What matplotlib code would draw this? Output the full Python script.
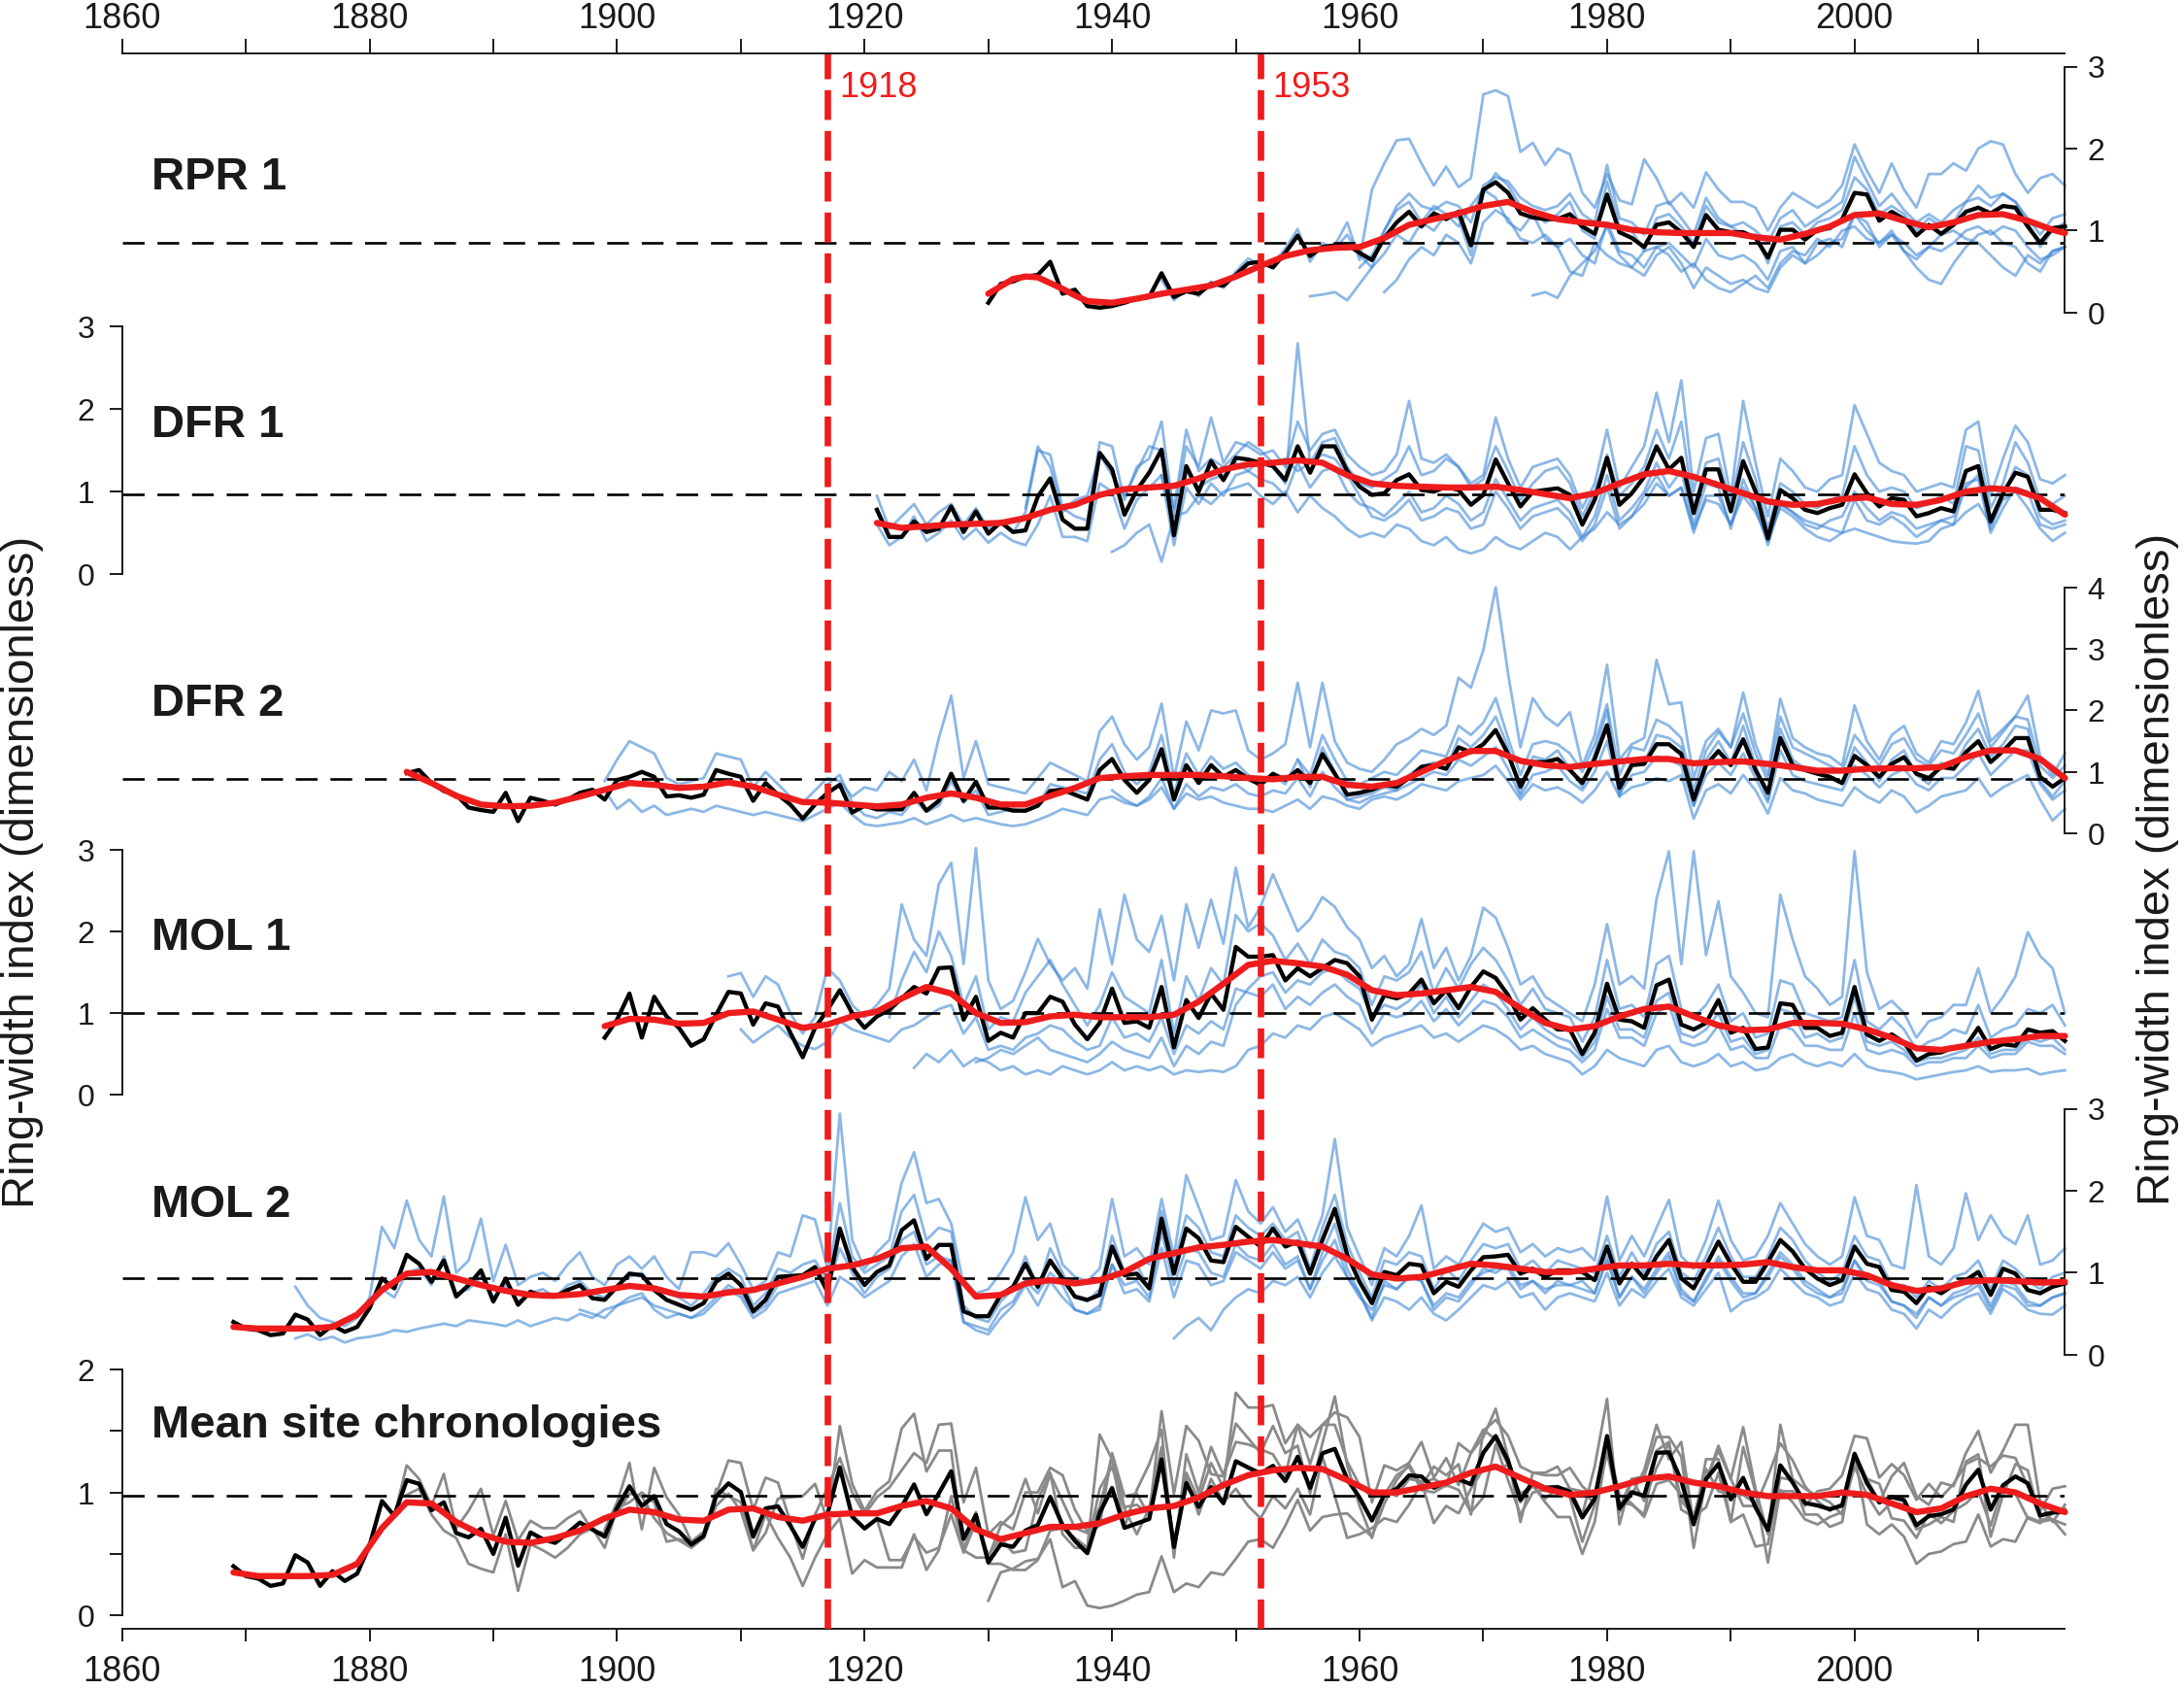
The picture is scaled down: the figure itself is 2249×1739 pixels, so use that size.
import numpy as np
import matplotlib
matplotlib.use("Agg")
import matplotlib.pyplot as plt

plt.rcParams['font.family'] = ['Liberation Sans', 'DejaVu Sans']

# ======================= DATA =======================
x_ticks = [1860, 1870, 1880, 1890, 1900, 1910, 1920, 1930, 1940, 1950,
           1960, 1970, 1980, 1990, 2000, 2010]
x_tick_labels = ['1860', '', '1880', '', '1900', '', '1920', '', '1940', '',
                 '1960', '', '1980', '', '2000', '']
event_years = [1917, 1952]
event_labels = ['1918', '1953']

panel_names = ['RPR 1', 'DFR 1', 'DFR 2', 'MOL 1', 'MOL 2', 'Mean site chronologies']
panel_ymax = [3, 3, 4, 3, 3, 2]
reference_level = [0.85, 0.97, 0.88, 1.0, 0.94, 0.97]
y_label = 'Ring-width index (dimensionless)'

# ---- RPR 1 ----
rpr1_start = 1930
rpr1_black = [0.12, 0.35, 0.38, 0.44, 0.46, 0.62, 0.23, 0.28, 0.08,
              0.06, 0.08, 0.12, 0.17, 0.19, 0.48, 0.19, 0.26, 0.23, 0.35,
              0.33, 0.46, 0.60, 0.62, 0.55, 0.73, 0.94, 0.69, 0.80, 0.82,
              0.83, 0.73, 0.64, 0.91, 1.10, 1.23, 1.05, 1.21, 1.14, 1.23,
              0.82, 1.50, 1.59, 1.46, 1.21, 1.16, 1.14, 1.14, 1.20, 1.05,
              0.96, 1.44, 0.98, 0.91, 0.80, 1.07, 1.10, 0.98, 0.80, 1.19,
              1.01, 0.98, 0.98, 0.91, 0.67, 1.01, 1.01, 0.89, 1.01, 1.03,
              1.14, 1.46, 1.44, 1.12, 1.23, 1.14, 0.94, 1.07, 0.96, 1.07,
              1.23, 1.28, 1.21, 1.30, 1.28, 1.05, 0.85, 1.03, 1.05]
rpr1_red_years = [1930, 1931, 1932, 1933, 1934, 1935, 1936, 1937, 1938, 1940,
                  1942, 1944, 1946, 1948, 1950, 1952, 1954, 1956, 1958, 1960,
                  1962, 1964, 1966, 1968, 1970, 1972, 1974, 1976, 1978, 1980,
                  1982, 1984, 1986, 1988, 1990, 1992, 1994, 1996, 1998, 2000,
                  2002, 2004, 2006, 2008, 2010, 2012, 2014, 2016, 2017]
rpr1_red = [0.23, 0.32, 0.41, 0.44, 0.43, 0.36, 0.29, 0.21, 0.14, 0.12,
            0.17, 0.23, 0.28, 0.33, 0.44, 0.57, 0.69, 0.76, 0.79, 0.80,
            0.91, 1.07, 1.14, 1.21, 1.30, 1.35, 1.23, 1.14, 1.10, 1.07,
            1.01, 0.98, 0.97, 0.97, 0.97, 0.92, 0.89, 0.96, 1.05, 1.19,
            1.21, 1.12, 1.04, 1.10, 1.19, 1.20, 1.12, 1.01, 0.97]
rpr1_tree_starts = [1944, 1956, 1958, 1974, 1960, 1962]
rpr1_tree_a = [0.40, 0.15, 0.30, 0.20, 0.38, 0.30, 0.50, 0.66, 0.58, 0.60,
               0.78, 1.02, 0.62, 0.85, 0.78, 0.95, 0.70, 0.55, 1.00, 1.25,
               1.35, 1.10, 1.30, 1.20, 1.15, 0.70, 1.45, 1.70, 1.55, 1.30,
               1.25, 1.10, 1.20, 1.35, 1.00, 0.90, 1.60, 1.05, 1.00, 0.75,
               1.15, 1.20, 1.05, 0.85, 1.30, 1.10, 1.05, 0.95, 0.95, 0.60,
               1.05, 1.10, 0.95, 1.10, 1.15, 1.25, 1.65, 1.50, 1.20, 1.30,
               1.20, 1.00, 1.15, 1.05, 1.10, 1.35, 1.40, 1.30, 1.45, 1.35,
               1.10, 0.80, 1.00, 1.10]
rpr1_tree_b = [0.20, 0.22, 0.25, 0.15, 0.35, 0.55, 0.72, 0.95, 0.85, 1.10,
               1.00, 1.20, 1.05, 1.30, 1.50, 1.40, 1.10, 1.00, 1.20, 0.90,
               0.80, 0.50, 0.45, 0.85, 0.70, 0.60, 0.55, 0.75, 0.80, 0.70,
               0.50, 0.60, 0.40, 0.30, 0.25, 0.35, 0.45, 0.30, 0.60, 0.75,
               0.70, 0.90, 0.80, 1.00, 1.05, 0.90, 0.85, 1.00, 0.75, 0.65,
               0.80, 0.95, 1.00, 0.90, 0.85, 0.70, 0.55, 0.45, 0.70, 0.60,
               0.75, 0.80]
rpr1_tree_c = [0.82, 1.10, 0.64, 1.50, 1.82, 2.10, 2.12, 1.82, 1.55, 1.78,
               1.53, 1.64, 2.66, 2.71, 2.64, 1.96, 2.07, 1.80, 2.00, 1.93,
               1.46, 1.28, 1.69, 1.37, 1.32, 1.87, 1.64, 1.32, 1.46, 1.28,
               1.71, 1.50, 1.35, 1.35, 1.28, 1.00, 1.28, 1.46, 1.37, 1.28,
               1.37, 1.55, 2.05, 1.73, 1.46, 1.82, 1.50, 1.28, 1.69, 1.69,
               1.82, 1.73, 2.00, 2.09, 2.05, 1.69, 1.46, 1.64, 1.69, 1.55]
rpr1_tree_d = [0.21, 0.25, 0.18, 0.45, 0.60, 0.75, 1.05, 0.70, 0.55, 0.45,
               0.70, 0.80, 0.60, 0.30, 0.55, 0.45, 0.35, 0.40, 0.30, 0.25,
               0.55, 0.70, 0.60, 0.85, 0.90, 0.80, 1.20, 1.00, 0.85, 0.95,
               0.75, 0.55, 0.40, 0.35, 0.60, 0.80, 0.95, 1.00, 0.85, 0.80,
               0.60, 0.50, 0.75, 0.80]
rpr1_tree_e = [0.55, 0.70, 1.00, 1.30, 1.45, 1.30, 1.25, 1.35, 1.30, 1.10,
               1.55, 1.65, 1.60, 1.40, 1.30, 1.25, 1.30, 1.45, 1.20, 1.10,
               1.80, 1.15, 1.10, 0.95, 1.30, 1.35, 1.15, 0.95, 1.40, 1.15,
               1.05, 1.10, 1.00, 0.85, 1.15, 1.25, 1.05, 1.15, 1.25, 1.35,
               1.90, 1.60, 1.30, 1.45, 1.25, 1.10, 1.20, 1.10, 1.25, 1.35,
               1.55, 1.40, 1.45, 1.35, 1.15, 0.95, 1.15, 1.20]
rpr1_tree_f = [0.25, 0.40, 0.65, 0.80, 0.70, 0.95, 0.85, 0.60, 1.10, 1.25,
               1.15, 0.90, 0.85, 0.95, 0.80, 0.90, 0.70, 0.60, 1.10, 0.75,
               0.70, 0.55, 0.80, 0.85, 0.70, 0.55, 0.90, 0.70, 0.65, 0.70,
               0.60, 0.40, 0.75, 0.80, 0.60, 0.70, 0.85, 0.90, 1.20, 1.10,
               0.80, 0.95, 0.85, 0.70, 0.80, 0.75, 0.85, 1.00, 1.05, 0.95,
               1.05, 1.00, 0.80, 0.65, 0.70, 0.80]

# ---- DFR 1 ----
dfr1_start = 1921
dfr1_black = [0.78, 0.45, 0.45, 0.64, 0.51, 0.55, 0.82, 0.51, 0.76, 0.49,
              0.63, 0.51, 0.53, 0.94, 1.16, 0.66, 0.55, 0.55, 1.47, 1.27,
              0.72, 1.02, 1.23, 1.51, 0.47, 1.31, 1.00, 1.37, 1.14, 1.41,
              1.39, 1.35, 1.31, 1.14, 1.55, 1.23, 1.55, 1.55, 1.25, 1.06,
              0.96, 0.98, 1.14, 1.21, 1.02, 1.00, 1.06, 1.02, 0.84, 0.96,
              1.39, 1.10, 0.82, 1.00, 1.02, 1.04, 0.96, 0.60, 0.90, 1.41,
              0.84, 0.98, 1.18, 1.55, 1.27, 1.41, 0.74, 1.27, 1.27, 0.76,
              1.37, 1.00, 0.43, 1.02, 0.92, 0.78, 0.74, 0.80, 0.84, 1.21,
              0.98, 0.82, 0.92, 0.90, 0.70, 0.74, 0.80, 0.76, 1.25, 1.31,
              0.64, 0.98, 1.23, 1.18, 0.78, 0.78, 0.74]
dfr1_red_years = list(range(1921, 2018, 2))
dfr1_red = [0.62, 0.56, 0.58, 0.60, 0.61, 0.62, 0.68, 0.78, 0.84, 0.96,
            1.03, 1.05, 1.07, 1.16, 1.27, 1.33, 1.35, 1.38, 1.35, 1.20,
            1.10, 1.07, 1.06, 1.05, 1.05, 1.06, 1.02, 0.97, 0.92, 0.98,
            1.10, 1.21, 1.25, 1.18, 1.08, 0.98, 0.88, 0.84, 0.85, 0.91,
            0.93, 0.85, 0.84, 0.90, 1.00, 1.04, 1.02, 0.92, 0.72]
dfr1_tree_starts = [1921, 1921, 1940, 1933, 1944]
dfr1_tree_a = [0.60, 0.35, 0.45, 0.70, 0.40, 0.50, 0.65, 0.42, 0.55, 0.38,
               0.50, 0.40, 0.35, 0.60, 0.95, 0.45, 0.45, 0.40, 1.10, 1.00,
               0.55, 0.90, 1.05, 1.20, 0.35, 1.05, 0.85, 1.10, 0.95, 1.20,
               1.25, 1.15, 1.10, 0.95, 1.35, 1.05, 1.25, 1.30, 1.00, 0.85,
               0.80, 0.70, 0.85, 1.00, 0.75, 0.80, 0.95, 0.85, 0.65, 0.75,
               1.15, 0.90, 0.65, 0.80, 0.85, 0.90, 0.75, 0.45, 0.70, 1.20,
               0.65, 0.80, 1.00, 1.35, 1.05, 1.25, 0.60, 1.10, 1.05, 0.55,
               1.15, 0.80, 0.35, 0.85, 0.75, 0.60, 0.55, 0.65, 0.70, 1.00,
               0.80, 0.65, 0.75, 0.70, 0.55, 0.60, 0.65, 0.60, 1.10, 1.15,
               0.50, 0.80, 1.05, 1.00, 0.60, 0.55, 0.60]
dfr1_tree_b = [0.95, 0.55, 0.70, 0.85, 0.60, 0.75, 0.85, 0.60, 0.80, 0.55,
               0.65, 0.50, 0.75, 1.50, 1.45, 0.80, 0.70, 0.65, 1.60, 1.55,
               0.90, 1.30, 1.40, 1.85, 0.70, 1.55, 1.30, 1.90, 1.35, 1.60,
               1.55, 1.45, 1.50, 1.30, 1.85, 1.50, 1.70, 1.75, 1.45, 1.30,
               1.20, 1.25, 1.45, 2.10, 1.40, 1.35, 1.45, 1.30, 1.10, 1.20,
               1.90, 1.40, 1.05, 1.30, 1.35, 1.40, 1.20, 0.80, 1.10, 1.75,
               1.05, 1.30, 1.55, 2.20, 1.60, 2.35, 1.00, 1.65, 1.70, 0.95,
               2.10, 1.35, 0.70, 1.40, 1.25, 1.05, 1.00, 1.15, 1.20, 2.05,
               1.70, 1.35, 1.25, 1.20, 1.00, 1.05, 1.10, 1.05, 1.75, 1.85,
               0.95, 1.40, 1.80, 1.60, 1.15, 1.10, 1.20]
dfr1_tree_c = [0.27, 0.35, 0.50, 0.60, 0.15, 0.70, 0.75, 0.95, 0.85, 1.00,
               1.05, 1.10, 0.95, 0.85, 1.00, 0.75, 0.95, 0.80, 0.70, 0.55,
               0.45, 0.50, 0.45, 0.60, 0.55, 0.40, 0.35, 0.45, 0.30, 0.25,
               0.30, 0.45, 0.35, 0.30, 0.40, 0.50, 0.45, 0.30, 0.45, 0.55,
               0.75, 0.60, 0.70, 0.85, 1.10, 0.95, 1.05, 0.55, 0.90, 0.85,
               0.60, 0.95, 0.75, 0.45, 0.80, 0.70, 0.55, 0.45, 0.40, 0.50,
               0.55, 0.50, 0.45, 0.40, 0.38, 0.37, 0.40, 0.55, 0.60, 0.75,
               0.85, 0.60, 0.90, 1.00, 0.80, 0.55, 0.40, 0.50]
dfr1_tree_d = [0.80, 1.55, 1.30, 0.75, 0.90, 0.95, 1.45, 1.20, 0.95, 1.25,
               1.55, 1.50, 0.80, 1.75, 1.25, 1.40, 1.30, 1.45, 1.60, 1.50,
               1.35, 1.40, 1.25, 1.35, 1.60, 1.65, 1.30, 1.10, 1.05, 1.15,
               1.25, 1.55, 1.20, 1.25, 1.40, 1.30, 1.05, 1.15, 1.55, 1.25,
               0.90, 1.10, 1.25, 1.30, 1.10, 0.70, 1.00, 1.45, 0.95, 1.10,
               1.30, 1.75, 1.40, 1.85, 0.80, 1.35, 1.40, 0.85, 1.60, 1.15,
               0.55, 1.10, 1.00, 0.85, 0.80, 0.90, 0.95, 1.55, 1.20, 1.00,
               1.05, 1.00, 0.80, 0.85, 0.95, 0.85, 1.55, 1.50, 0.80, 1.10,
               1.60, 1.35, 0.90, 0.85, 0.95]
dfr1_tree_e = [1.20, 0.55, 1.25, 1.05, 1.15, 1.20, 1.35, 1.25, 1.40, 1.30,
               1.10, 2.80, 1.35, 1.45, 1.40, 1.20, 0.95, 0.70, 0.65, 0.75,
               0.90, 0.65, 0.70, 0.80, 0.75, 0.55, 0.60, 1.00, 0.80, 0.55,
               0.70, 0.75, 0.80, 0.65, 0.40, 0.60, 1.05, 0.55, 0.70, 0.95,
               1.20, 0.95, 1.05, 0.50, 0.95, 0.95, 0.60, 1.05, 0.80, 0.40,
               0.85, 0.75, 0.65, 0.60, 0.55, 0.50, 0.90, 0.65, 0.60, 0.70,
               0.60, 0.45, 0.55, 0.65, 0.70, 1.05, 1.20, 0.55, 0.95, 1.30,
               1.20, 0.70, 0.60, 0.65]

# ---- DFR 2 ----
dfr2_start = 1883
dfr2_black = [0.98, 1.03, 0.82, 0.69, 0.63, 0.42, 0.38, 0.35, 0.66, 0.20,
              0.58, 0.53, 0.47, 0.55, 0.66, 0.71, 0.55, 0.87, 0.92, 1.00,
              0.92, 0.60, 0.62, 0.58, 0.63, 1.03, 0.97, 0.92, 0.53, 0.82,
              0.63, 0.47, 0.24, 0.47, 0.66, 0.79, 0.34, 0.45, 0.39, 0.39,
              0.39, 0.66, 0.37, 0.53, 0.97, 0.53, 0.84, 0.42, 0.42, 0.37,
              0.37, 0.45, 0.69, 0.71, 0.63, 0.55, 1.03, 1.21, 0.87, 0.66,
              0.87, 1.37, 0.55, 1.11, 0.82, 1.11, 0.92, 1.03, 0.89, 0.79,
              0.97, 0.87, 1.03, 0.82, 1.29, 0.97, 0.63, 0.66, 0.71, 0.79,
              0.76, 0.90, 1.08, 1.11, 1.05, 1.40, 1.32, 1.45, 1.68, 1.29,
              0.76, 1.16, 1.16, 1.21, 1.03, 0.82, 1.21, 1.76, 0.74, 1.11,
              1.13, 1.45, 1.45, 1.29, 0.55, 1.11, 1.34, 1.11, 1.53, 1.03,
              0.66, 1.55, 1.11, 1.03, 0.97, 0.92, 0.82, 1.26, 1.11, 0.92,
              1.13, 1.24, 0.97, 0.90, 1.08, 1.05, 1.32, 1.50, 1.16, 1.34,
              1.55, 1.55, 0.92, 0.76, 0.90]
dfr2_red_years = list(range(1883, 2018, 2))
dfr2_red = [1.00, 0.82, 0.61, 0.47, 0.44, 0.45, 0.50, 0.60, 0.71, 0.82,
            0.79, 0.74, 0.76, 0.83, 0.76, 0.63, 0.51, 0.50, 0.47, 0.44,
            0.47, 0.58, 0.65, 0.58, 0.47, 0.47, 0.61, 0.74, 0.90, 0.93,
            0.95, 0.95, 0.95, 0.93, 0.90, 0.88, 0.92, 0.92, 0.79, 0.76,
            0.82, 1.00, 1.18, 1.34, 1.34, 1.18, 1.11, 1.08, 1.13, 1.17,
            1.21, 1.21, 1.14, 1.16, 1.17, 1.13, 1.08, 1.02, 1.02, 1.05,
            1.06, 1.06, 1.08, 1.24, 1.35, 1.35, 1.21, 0.90]
dfr2_tree_starts = [1899, 1899, 1917, 1940, 1955]
dfr2_tree_a = [0.85, 1.20, 1.50, 1.40, 1.30, 0.90, 0.80, 0.85, 0.90, 1.30,
               1.25, 1.20, 0.75, 1.00, 0.80, 0.60, 0.50, 0.70, 0.90, 0.85,
               0.60, 0.75, 0.70, 1.00, 0.85, 1.20, 0.70, 1.55, 2.24, 0.90,
               1.50, 0.80, 0.75, 0.70, 0.65, 0.90, 1.15, 1.05, 0.95, 0.85,
               1.66, 1.90, 1.45, 1.20, 1.40, 2.11, 0.90, 1.82, 1.35, 2.00,
               1.95, 2.00, 1.35, 1.20, 1.30, 1.45, 2.45, 1.40, 2.45, 1.50,
               1.15, 1.05, 1.00, 1.20, 1.45, 1.55, 1.70, 1.60, 1.75, 2.53,
               2.37, 2.98, 4.00, 2.60, 1.40, 2.20, 1.90, 1.75, 1.97, 1.10,
               1.60, 2.74, 1.20, 1.45, 1.55, 2.82, 2.10, 2.13, 0.90, 1.50,
               1.70, 1.40, 2.29, 1.45, 0.95, 2.19, 1.55, 1.40, 1.30, 1.25,
               1.10, 2.08, 1.50, 1.20, 1.60, 1.75, 1.30, 1.15, 1.50, 1.45,
               1.80, 2.32, 1.50, 1.70, 1.90, 2.24, 1.25, 0.95, 1.30]
dfr2_tree_b = [0.70, 0.40, 0.55, 0.35, 0.45, 0.30, 0.35, 0.40, 0.35, 0.45,
               0.40, 0.35, 0.30, 0.35, 0.30, 0.25, 0.20, 0.30, 0.40, 0.50,
               0.30, 0.15, 0.12, 0.15, 0.18, 0.25, 0.15, 0.22, 0.30, 0.20,
               0.25, 0.20, 0.15, 0.12, 0.15, 0.22, 0.30, 0.40, 0.35, 0.30,
               0.55, 0.60, 0.50, 0.45, 0.55, 0.75, 0.40, 0.65, 0.55, 0.60,
               0.50, 0.45, 0.40, 0.40, 0.35, 0.45, 0.55, 0.40, 0.60, 0.55,
               0.45, 0.40, 0.55, 0.60, 0.55, 0.65, 0.80, 0.75, 0.70, 0.85,
               0.90, 0.95, 1.10, 0.85, 0.55, 0.80, 0.70, 0.75, 0.65, 0.50,
               0.70, 1.00, 0.60, 0.75, 0.80, 0.90, 0.85, 0.95, 0.24, 0.70,
               0.80, 0.65, 0.95, 0.70, 0.32, 0.90, 0.70, 0.65, 0.55, 0.50,
               0.45, 0.75, 0.60, 0.50, 0.70, 0.60, 0.34, 0.45, 0.60, 0.65,
               0.70, 0.90, 0.60, 0.75, 0.85, 0.95, 0.55, 0.21, 0.40]
dfr2_tree_c = [0.80, 0.95, 0.50, 0.30, 0.25, 0.35, 0.30, 0.55, 0.35, 0.45,
               0.85, 0.50, 0.70, 0.30, 0.35, 0.40, 0.35, 0.45, 0.80, 0.75,
               0.70, 0.65, 1.20, 1.45, 1.00, 0.80, 1.00, 1.60, 0.65, 1.30,
               0.95, 1.25, 1.05, 1.15, 0.95, 0.85, 0.95, 0.80, 1.20, 0.75,
               1.40, 1.00, 0.55, 0.60, 0.65, 0.75, 0.70, 0.95, 1.10, 1.15,
               1.05, 1.55, 1.40, 1.60, 1.90, 1.40, 0.65, 1.25, 1.20, 1.35,
               1.05, 0.75, 1.30, 2.00, 0.60, 1.20, 1.15, 1.60, 1.55, 1.40,
               0.45, 1.20, 1.50, 1.15, 1.75, 1.10, 0.55, 1.70, 1.20, 1.05,
               1.00, 0.90, 0.80, 1.40, 1.15, 0.85, 1.20, 1.35, 0.95, 0.80,
               1.15, 1.05, 1.45, 1.70, 1.25, 1.45, 1.75, 1.70, 0.85, 0.60,
               0.85]
dfr2_tree_d = [0.70, 0.55, 0.45, 0.60, 0.90, 0.40, 0.80, 0.60, 0.75, 0.70,
               0.80, 0.65, 0.60, 0.70, 0.65, 0.90, 0.60, 1.00, 0.75, 0.55,
               0.50, 0.60, 0.65, 0.70, 0.80, 0.90, 1.00, 0.95, 1.20, 1.10,
               1.25, 1.40, 1.05, 0.60, 0.95, 1.00, 1.10, 0.85, 0.70, 1.00,
               1.50, 0.65, 0.95, 1.00, 1.25, 1.20, 1.10, 0.45, 0.95, 1.15,
               0.95, 1.30, 0.90, 0.50, 1.35, 0.95, 0.85, 0.80, 0.75, 0.70,
               1.10, 0.95, 0.75, 0.95, 1.05, 0.80, 0.70, 0.90, 0.90, 1.10,
               1.30, 0.95, 1.15, 1.35, 1.35, 0.80, 0.55, 0.70]
dfr2_tree_e = [1.20, 0.95, 1.60, 1.20, 0.85, 0.80, 0.90, 1.00, 0.95, 1.15,
               1.35, 1.30, 1.25, 1.75, 1.60, 1.80, 2.20, 1.55, 0.95, 1.45,
               1.50, 1.45, 1.30, 1.00, 1.45, 2.10, 0.95, 1.40, 1.35, 1.85,
               1.75, 1.55, 0.70, 1.35, 1.65, 1.40, 1.95, 1.30, 0.85, 1.90,
               1.40, 1.30, 1.20, 1.10, 1.00, 1.60, 1.35, 1.10, 1.45, 1.55,
               1.20, 1.10, 1.35, 1.30, 1.60, 1.95, 1.40, 1.65, 1.90, 1.85,
               1.10, 0.90, 1.10]

# ---- MOL 1 ----
mol1_start = 1899
mol1_black = [0.70, 0.92, 1.24, 0.70, 1.20, 0.96, 0.82, 0.60, 0.68, 0.98,
              1.26, 1.24, 0.86, 1.12, 1.08, 0.76, 0.46, 0.82, 1.04, 1.28,
              1.00, 0.82, 0.96, 1.04, 1.18, 1.32, 1.24, 1.55, 1.56, 0.92,
              1.20, 0.66, 0.76, 0.70, 1.00, 1.00, 1.20, 1.14, 0.86, 0.68,
              0.88, 1.30, 0.88, 0.90, 0.82, 1.32, 0.58, 1.16, 0.94, 1.24,
              1.04, 1.81, 1.69, 1.69, 1.71, 1.40, 1.55, 1.45, 1.55, 1.65,
              1.61, 1.45, 0.92, 1.22, 1.18, 1.24, 1.41, 1.12, 1.28, 1.06,
              1.32, 1.51, 1.43, 1.22, 0.92, 1.06, 0.92, 0.80, 0.80, 0.50,
              0.76, 1.36, 0.92, 0.90, 0.82, 1.34, 1.41, 0.86, 0.80, 0.88,
              1.16, 0.76, 0.82, 0.56, 0.58, 1.12, 1.10, 0.82, 0.82, 0.72,
              0.76, 1.32, 0.74, 0.66, 0.74, 0.64, 0.42, 0.50, 0.52, 0.58,
              0.60, 0.82, 0.56, 0.62, 0.60, 0.80, 0.76, 0.78, 0.66]
mol1_red_years = list(range(1899, 2018, 2))
mol1_red = [0.84, 0.93, 0.92, 0.87, 0.88, 1.00, 1.02, 0.92, 0.82, 0.86,
            0.96, 1.02, 1.18, 1.32, 1.24, 1.00, 0.88, 0.89, 0.96, 0.98,
            0.95, 0.95, 0.95, 0.98, 1.14, 1.36, 1.59, 1.64, 1.61, 1.57,
            1.47, 1.28, 1.22, 1.24, 1.28, 1.32, 1.26, 1.06, 0.88, 0.80,
            0.84, 0.96, 1.05, 1.08, 0.96, 0.85, 0.79, 0.80, 0.88, 0.88,
            0.87, 0.80, 0.70, 0.57, 0.55, 0.60, 0.65, 0.68, 0.72, 0.72]
mol1_tree_starts = [1909, 1910, 1924, 1922, 1929]
mol1_tree_a = [1.45, 1.49, 1.20, 1.45, 1.35, 1.00, 0.75, 0.95, 1.55, 1.40,
               1.10, 0.95, 1.10, 1.30, 2.33, 1.90, 1.70, 2.58, 2.84, 1.60,
               3.02, 1.40, 1.05, 1.15, 1.50, 1.91, 1.60, 1.40, 1.55, 1.30,
               2.27, 1.60, 2.45, 1.90, 1.75, 2.19, 1.40, 2.33, 1.80, 2.39,
               1.85, 2.78, 2.05, 2.30, 2.70, 2.35, 2.00, 2.15, 2.42, 2.30,
               2.05, 1.90, 1.55, 1.70, 1.45, 1.60, 2.15, 1.55, 1.80, 1.40,
               1.70, 2.29, 2.17, 1.80, 1.35, 1.45, 1.20, 1.10, 1.00, 0.90,
               1.35, 2.09, 1.35, 1.45, 1.30, 2.40, 2.98, 1.60, 2.98, 1.71,
               2.37, 1.45, 1.25, 1.00, 0.95, 2.45, 1.90, 1.45, 1.30, 1.10,
               1.20, 2.98, 1.50, 1.05, 1.15, 1.00, 0.70, 0.90, 0.95, 1.10,
               1.10, 1.55, 1.00, 1.20, 1.45, 1.99, 1.70, 1.55, 1.00]
mol1_tree_b = [0.80, 0.64, 0.75, 0.85, 0.70, 0.60, 0.56, 0.65, 0.90, 0.80,
               0.75, 0.70, 0.65, 0.80, 0.85, 0.95, 1.05, 1.10, 0.75, 0.95,
               0.55, 0.60, 0.55, 0.70, 0.75, 0.85, 0.80, 0.65, 0.55, 0.60,
               0.95, 0.70, 0.75, 0.65, 0.95, 0.50, 0.85, 0.75, 0.90, 0.80,
               1.30, 1.25, 1.20, 1.35, 1.05, 1.20, 1.10, 1.25, 1.35, 1.20,
               1.10, 0.75, 1.00, 0.95, 1.00, 1.15, 0.90, 1.05, 0.85, 1.00,
               1.15, 1.10, 0.95, 0.70, 0.80, 0.70, 0.60, 0.55, 0.40, 0.55,
               1.05, 0.70, 0.70, 0.60, 1.00, 1.10, 0.65, 0.60, 0.65, 0.85,
               0.55, 0.60, 0.45, 0.45, 0.85, 0.80, 0.60, 0.60, 0.55, 0.55,
               1.00, 0.55, 0.50, 0.55, 0.50, 0.35, 0.40, 0.40, 0.45, 0.45,
               0.60, 0.45, 0.50, 0.50, 0.65, 0.60, 0.60, 0.50]
mol1_tree_c = [0.33, 0.50, 0.40, 0.55, 0.35, 0.45, 0.40, 0.30, 0.35, 0.25,
               0.30, 0.25, 0.35, 0.30, 0.25, 0.30, 0.40, 0.30, 0.35, 0.30,
               0.35, 0.25, 0.30, 0.28, 0.30, 0.28, 0.35, 0.55, 0.60, 0.75,
               0.70, 0.85, 0.80, 0.95, 1.00, 0.90, 0.80, 0.60, 0.70, 0.75,
               0.80, 0.85, 0.70, 0.75, 0.65, 0.75, 0.85, 0.80, 0.70, 0.55,
               0.60, 0.50, 0.45, 0.40, 0.25, 0.35, 0.55, 0.45, 0.40, 0.35,
               0.55, 0.60, 0.40, 0.35, 0.40, 0.50, 0.35, 0.40, 0.30, 0.33,
               0.45, 0.50, 0.40, 0.35, 0.40, 0.35, 0.50, 0.35, 0.30, 0.28,
               0.25, 0.19, 0.22, 0.25, 0.28, 0.30, 0.35, 0.28, 0.30, 0.30,
               0.32, 0.25, 0.28, 0.30]
mol1_tree_d = [0.95, 1.40, 1.75, 1.50, 2.00, 1.70, 1.10, 1.45, 0.80, 0.95,
               0.90, 1.25, 1.45, 1.65, 1.35, 1.10, 0.85, 1.10, 1.50, 1.20,
               1.10, 1.00, 1.65, 0.75, 1.45, 1.15, 1.55, 1.35, 2.20, 2.00,
               2.10, 1.95, 1.65, 1.85, 1.60, 1.90, 1.75, 1.70, 1.55, 1.10,
               1.45, 1.40, 1.50, 1.75, 1.25, 1.55, 1.30, 1.60, 1.80, 1.65,
               1.40, 1.10, 1.30, 1.05, 1.00, 0.95, 0.65, 0.95, 1.65, 1.05,
               1.10, 0.95, 1.60, 1.70, 1.05, 0.95, 1.10, 1.35, 0.90, 1.00,
               0.70, 0.75, 1.40, 1.35, 1.00, 0.95, 0.90, 0.95, 1.65, 0.90,
               0.80, 0.95, 0.80, 0.55, 0.65, 0.70, 0.80, 0.75, 1.10, 0.70,
               0.80, 0.85, 1.05, 1.00, 1.10, 0.85]
mol1_tree_e = [0.40, 0.45, 0.55, 0.50, 0.60, 0.70, 0.55, 0.50, 0.45, 0.40,
               0.50, 0.65, 0.55, 0.50, 0.45, 0.70, 0.35, 0.60, 0.50, 0.65,
               0.60, 1.10, 1.30, 1.45, 1.50, 1.25, 1.40, 1.35, 1.50, 1.55,
               1.40, 1.30, 0.95, 1.10, 1.05, 1.15, 1.35, 1.00, 1.20, 0.95,
               1.15, 1.35, 1.25, 1.05, 0.80, 0.95, 0.80, 0.70, 0.65, 0.45,
               0.65, 1.20, 0.80, 0.80, 0.70, 1.15, 1.25, 0.75, 0.70, 0.80,
               1.00, 0.65, 0.70, 0.50, 0.55, 1.05, 1.00, 0.70, 0.75, 0.65,
               0.70, 1.20, 0.65, 0.60, 0.65, 0.55, 0.40, 0.45, 0.45, 0.50,
               0.55, 0.70, 0.50, 0.55, 0.55, 0.70, 0.65, 0.70, 0.55]

# ---- MOL 2 ----
mol2_start = 1869
mol2_black = [0.40, 0.32, 0.30, 0.24, 0.26, 0.49, 0.43, 0.24, 0.36, 0.28,
              0.34, 0.57, 0.93, 0.81, 1.22, 1.11, 0.89, 1.15, 0.71, 0.85,
              1.03, 0.65, 0.93, 0.61, 0.77, 0.71, 0.71, 0.79, 0.85, 0.69,
              0.67, 0.83, 0.99, 0.97, 0.79, 0.67, 0.61, 0.55, 0.63, 0.89,
              0.99, 0.85, 0.53, 0.67, 0.95, 0.96, 0.97, 1.07, 0.77, 1.54,
              1.07, 0.85, 1.01, 1.09, 1.52, 1.64, 1.17, 1.34, 1.34, 0.53,
              0.47, 0.47, 0.73, 0.83, 1.11, 0.83, 1.15, 0.93, 0.71, 0.67,
              0.73, 1.32, 0.97, 0.99, 0.81, 1.66, 0.99, 1.54, 1.42, 1.15,
              1.13, 1.56, 1.44, 1.32, 1.54, 1.32, 1.38, 0.99, 1.40, 1.78,
              1.22, 0.89, 0.63, 1.01, 0.97, 1.11, 1.09, 0.75, 0.89, 0.83,
              1.03, 1.19, 1.20, 1.22, 0.99, 1.05, 0.95, 1.03, 1.03, 1.01,
              0.91, 1.32, 0.87, 1.11, 0.93, 1.20, 1.40, 0.93, 0.81, 1.09,
              1.38, 1.11, 0.89, 0.89, 1.13, 1.40, 1.26, 1.05, 0.93, 0.85,
              0.91, 1.32, 1.11, 1.07, 0.79, 0.77, 0.63, 0.83, 0.75, 0.85,
              0.91, 1.01, 0.73, 1.05, 0.99, 0.79, 0.75, 0.83, 0.87]
mol2_red_years = list(range(1869, 2018, 2))
mol2_red = [0.34, 0.32, 0.32, 0.32, 0.34, 0.49, 0.79, 0.99, 1.01, 0.93,
            0.85, 0.78, 0.73, 0.72, 0.74, 0.79, 0.84, 0.81, 0.73, 0.71,
            0.76, 0.79, 0.87, 0.95, 1.05, 1.09, 1.17, 1.30, 1.32, 1.05,
            0.71, 0.73, 0.87, 0.91, 0.87, 0.91, 1.01, 1.17, 1.24, 1.31,
            1.34, 1.38, 1.40, 1.36, 1.32, 1.17, 0.98, 0.93, 0.95, 1.03,
            1.11, 1.09, 1.05, 1.01, 1.01, 1.05, 1.09, 1.09, 1.11, 1.09,
            1.09, 1.10, 1.13, 1.07, 1.03, 1.03, 0.97, 0.85, 0.78, 0.81,
            0.89, 0.91, 0.90, 0.88, 0.89]
mol2_tree_starts = [1874, 1874, 1881, 1945, 1897]
mol2_tree_a = [0.20, 0.25, 0.18, 0.22, 0.15, 0.20, 0.22, 0.25, 0.30, 0.28,
               0.32, 0.35, 0.38, 0.35, 0.42, 0.40, 0.38, 0.35, 0.42, 0.35,
               0.40, 0.45, 0.42, 0.50, 0.45, 0.55, 0.60, 0.65, 0.70, 0.60,
               0.55, 0.50, 0.45, 0.55, 0.70, 0.85, 0.75, 0.50, 0.60, 0.85,
               0.90, 0.95, 1.00, 0.80, 1.30, 1.00, 0.75, 0.95, 1.05, 1.40,
               1.50, 1.10, 1.20, 1.15, 0.40, 0.35, 0.30, 0.55, 0.65, 0.90,
               0.75, 1.00, 0.85, 0.55, 0.50, 0.60, 1.10, 0.85, 0.90, 0.70,
               1.50, 0.85, 1.30, 1.25, 1.00, 0.95, 1.35, 1.20, 1.15, 1.35,
               1.10, 1.20, 0.80, 1.25, 1.60, 1.05, 0.75, 0.45, 0.90, 0.80,
               0.95, 0.90, 0.55, 0.70, 0.65, 0.85, 1.05, 1.00, 1.10, 0.85,
               0.90, 0.80, 0.85, 0.85, 0.90, 0.75, 1.15, 0.70, 0.95, 0.80,
               1.05, 1.25, 0.80, 0.65, 0.90, 1.20, 0.95, 0.75, 0.75, 1.00,
               1.25, 1.10, 0.90, 0.80, 0.70, 0.80, 1.15, 0.95, 0.90, 0.65,
               0.60, 0.50, 0.70, 0.60, 0.75, 0.80, 0.90, 0.60, 0.90, 0.85,
               0.65, 0.60, 0.70, 0.75]
mol2_tree_b = [0.83, 0.60, 0.45, 0.40, 0.35, 0.45, 0.70, 1.56, 1.30, 1.88,
               1.40, 1.20, 1.93, 1.00, 1.15, 1.66, 0.90, 1.34, 0.85, 0.95,
               1.00, 0.90, 1.10, 1.25, 0.95, 0.85, 1.10, 1.20, 1.05, 1.20,
               0.95, 0.80, 1.25, 1.25, 1.20, 1.36, 1.10, 0.80, 0.90, 1.25,
               1.20, 1.70, 1.65, 1.05, 2.94, 1.40, 1.05, 1.25, 1.40, 2.10,
               2.47, 1.85, 1.90, 1.60, 0.85, 0.75, 0.80, 1.00, 1.25, 1.92,
               1.40, 1.60, 1.10, 0.95, 0.90, 1.05, 1.90, 1.20, 1.30, 1.10,
               1.90, 1.20, 2.19, 1.80, 1.40, 1.45, 2.13, 1.75, 1.60, 1.80,
               1.50, 1.65, 1.30, 1.70, 2.63, 1.55, 1.20, 0.85, 1.30, 1.20,
               1.45, 1.82, 1.05, 1.20, 1.10, 1.35, 1.60, 1.50, 1.55, 1.25,
               1.35, 1.20, 1.30, 1.25, 1.30, 1.15, 1.93, 1.15, 1.45, 1.20,
               1.55, 1.89, 1.20, 1.05, 1.40, 1.88, 1.40, 1.15, 1.20, 1.45,
               1.85, 1.60, 1.35, 1.20, 1.10, 1.20, 1.92, 1.45, 1.40, 1.10,
               1.05, 2.07, 1.20, 1.10, 1.30, 1.97, 1.40, 1.70, 1.45, 1.35,
               1.70, 1.10, 1.15, 1.30]
mol2_tree_c = [0.80, 0.70, 1.00, 1.05, 0.85, 1.20, 0.75, 0.80, 0.95, 0.70,
               0.85, 0.65, 0.75, 0.80, 0.70, 0.85, 0.90, 0.75, 0.70, 0.85,
               0.95, 1.00, 0.80, 0.75, 0.70, 0.60, 0.75, 0.95, 1.05, 0.95,
               0.60, 0.75, 1.05, 1.00, 1.10, 1.15, 0.90, 1.85, 1.20, 1.00,
               1.10, 1.20, 1.75, 1.95, 1.40, 1.55, 1.50, 0.60, 0.45, 0.40,
               0.65, 0.80, 1.20, 0.80, 1.30, 1.00, 0.70, 0.65, 0.80, 1.45,
               1.00, 1.10, 0.80, 1.75, 1.10, 1.70, 1.55, 1.25, 1.20, 1.70,
               1.55, 1.45, 1.60, 1.40, 1.50, 1.05, 1.55, 1.95, 1.35, 1.00,
               0.70, 1.15, 1.10, 1.25, 1.20, 0.80, 1.05, 0.90, 1.15, 1.35,
               1.30, 1.35, 1.05, 1.15, 1.00, 1.15, 1.10, 1.05, 1.00, 1.45,
               0.95, 1.25, 1.00, 1.35, 1.50, 1.00, 0.90, 1.20, 1.55, 1.20,
               0.95, 0.95, 1.20, 1.55, 1.40, 1.15, 1.00, 0.90, 1.00, 1.45,
               1.20, 1.15, 0.85, 0.85, 0.70, 0.90, 0.80, 0.95, 1.00, 1.15,
               0.80, 1.15, 1.05, 0.90, 0.80, 0.95, 1.00]
mol2_tree_d = [0.20, 0.35, 0.45, 0.30, 0.55, 0.70, 0.80, 0.75, 0.90, 0.85,
               0.95, 0.70, 1.00, 1.20, 0.95, 0.75, 0.42, 0.70, 0.65, 0.55,
               0.70, 0.50, 0.42, 0.55, 0.70, 0.85, 0.80, 0.90, 0.70, 0.75,
               0.55, 0.70, 0.75, 0.70, 0.65, 1.00, 0.60, 0.80, 0.70, 0.90,
               1.05, 0.70, 0.60, 0.80, 1.00, 0.53, 0.65, 0.70, 0.80, 1.05,
               0.90, 0.75, 0.70, 0.60, 0.65, 1.00, 0.80, 0.75, 0.55, 0.50,
               0.32, 0.55, 0.45, 0.60, 0.70, 0.75, 0.50, 0.80, 0.70, 0.55,
               0.50, 0.49, 0.60]
mol2_tree_e = [0.55, 0.50, 0.45, 0.60, 0.70, 0.75, 0.55, 0.45, 0.50, 0.45,
               0.50, 0.65, 0.80, 0.70, 0.45, 0.55, 0.75, 0.80, 0.85, 0.90,
               0.60, 0.95, 0.85, 0.70, 0.80, 0.90, 1.20, 1.35, 0.95, 1.10,
               1.15, 0.40, 0.30, 0.25, 0.45, 0.60, 0.85, 0.60, 0.90, 0.70,
               0.55, 0.50, 0.55, 1.10, 0.75, 0.80, 0.65, 1.30, 0.70, 1.15,
               1.10, 0.85, 0.90, 1.25, 1.15, 1.05, 1.25, 1.05, 1.15, 0.80,
               1.15, 1.40, 0.95, 0.70, 0.55, 0.85, 0.80, 0.95, 0.90, 0.60,
               0.75, 0.70, 0.90, 1.00, 1.05, 1.05, 0.80, 0.90, 0.75, 0.90,
               0.85, 0.80, 0.75, 1.20, 0.70, 0.95, 0.75, 1.00, 1.20, 0.75,
               0.65, 0.95, 1.15, 0.90, 0.70, 0.75, 0.95, 1.20, 1.05, 0.85,
               0.75, 0.70, 0.75, 1.15, 0.90, 0.85, 0.65, 0.60, 0.45, 0.70,
               0.60, 0.70, 0.75, 0.85, 0.55, 0.85, 0.80, 0.60, 0.60, 0.70,
               0.75]

# ---- Mean site chronologies ----
mean_red_years = list(range(1869, 2018, 2))
mean_red = [0.35, 0.32, 0.32, 0.32, 0.33, 0.42, 0.71, 0.92, 0.91, 0.76,
            0.66, 0.60, 0.59, 0.63, 0.69, 0.79, 0.86, 0.84, 0.78, 0.77,
            0.86, 0.87, 0.80, 0.77, 0.82, 0.83, 0.83, 0.89, 0.93, 0.87,
            0.70, 0.62, 0.67, 0.72, 0.72, 0.75, 0.82, 0.87, 0.89, 0.96,
            1.06, 1.14, 1.18, 1.20, 1.19, 1.10, 1.00, 1.00, 1.04, 1.08,
            1.16, 1.21, 1.12, 1.03, 0.98, 1.00, 1.05, 1.11, 1.13, 1.08,
            1.05, 1.00, 0.97, 0.97, 0.97, 1.00, 0.98, 0.91, 0.84, 0.87,
            0.97, 1.03, 1.00, 0.91, 0.84]

# ======================= LAYOUT / STYLE =======================
W, H = 2249, 1739
X_LEFT, X_RIGHT = 125.7, 2126.0          # pixel columns of the year axis
XMIN, XMAX = 1860, 2017.0
TOP_AXIS_PX, BOTTOM_AXIS_PX = 55.0, 1676.7
# (pixel row of 0, pixel row of ymax, side of y axis, baseline of title)
panel_layout = [
    (322.2, 68.9, 'right', 195),
    (591.3, 336.8, 'left', 450),
    (858.3, 605.0, 'right', 737),
    (1127.4, 875.0, 'left', 978),
    (1395.0, 1141.7, 'right', 1253),
    (1663.3, 1410.0, 'left', 1480),
]

BLUE = '#3a84d4'
RED = '#ee1c1c'
INK = '#1a1a1a'


def fx(px):
    return px / W


def fy(py):
    return 1.0 - py / H


fig = plt.figure(figsize=(W / 100 + 0.004, H / 100 + 0.004), dpi=100)

site_blacks = [(rpr1_start, rpr1_black), (dfr1_start, dfr1_black),
               (dfr2_start, dfr2_black), (mol1_start, mol1_black),
               (mol2_start, mol2_black)]
site_reds = [(rpr1_red_years, rpr1_red), (dfr1_red_years, dfr1_red),
             (dfr2_red_years, dfr2_red), (mol1_red_years, mol1_red),
             (mol2_red_years, mol2_red)]
site_trees = [
    (rpr1_tree_starts, [rpr1_tree_a, rpr1_tree_b, rpr1_tree_c, rpr1_tree_d, rpr1_tree_e, rpr1_tree_f]),
    (dfr1_tree_starts, [dfr1_tree_a, dfr1_tree_b, dfr1_tree_c, dfr1_tree_d, dfr1_tree_e]),
    (dfr2_tree_starts, [dfr2_tree_a, dfr2_tree_b, dfr2_tree_c, dfr2_tree_d, dfr2_tree_e]),
    (mol1_tree_starts, [mol1_tree_a, mol1_tree_b, mol1_tree_c, mol1_tree_d, mol1_tree_e]),
    (mol2_tree_starts, [mol2_tree_a, mol2_tree_b, mol2_tree_c, mol2_tree_d, mol2_tree_e]),
]

# mean of the site chronologies (black line in the bottom panel)
first_year = min(s for s, _ in site_blacks)
mean_years = np.arange(first_year, 2018)
stack = np.full((len(site_blacks), len(mean_years)), np.nan)
for i, (s, vals) in enumerate(site_blacks):
    i0 = s - first_year
    stack[i, i0:i0 + len(vals)] = vals
mean_black = np.nanmean(stack, axis=0)


def years_for(start, vals):
    return np.arange(start, start + len(vals))


for k, (zero_px, top_px, side, title_px) in enumerate(panel_layout):
    ymax = panel_ymax[k]
    ax = fig.add_axes([fx(X_LEFT), fy(zero_px), fx(X_RIGHT) - fx(X_LEFT),
                       fy(top_px) - fy(zero_px)])
    ax.set_xlim(XMIN, XMAX)
    ax.set_ylim(0, ymax)
    ax.patch.set_alpha(0)
    for s in ['top', 'bottom', 'left', 'right']:
        ax.spines[s].set_visible(s == side)
    ax.spines[side].set_bounds(0, ymax)
    ax.spines[side].set_linewidth(1.4)
    ax.spines[side].set_color(INK)
    ax.set_xticks([])
    if k == 5:
        ax.set_yticks([0, 0.5, 1, 1.5, 2])
        ax.set_yticklabels(['0', '', '1', '', '2'])
    else:
        ax.set_yticks(list(range(ymax + 1)))
        ax.set_yticklabels([str(v) for v in range(ymax + 1)])
    ax.yaxis.set_ticks_position(side)
    ax.tick_params(axis='y', direction='out', length=9.5, width=1.4,
                   labelsize=23, colors=INK,
                   pad=(11 if side == 'left' else 7))

    # reference line
    ax.axhline(reference_level[k], color='black', lw=1.9,
               dashes=(8.5, 5.0), zorder=2)

    if k < 5:
        starts, trees = site_trees[k]
        for s, vals in zip(starts, trees):
            ax.plot(years_for(s, vals), vals, color=BLUE, lw=2.0,
                    alpha=0.58, zorder=1, clip_on=False)
        s, vals = site_blacks[k]
        ax.plot(years_for(s, vals), vals, color='black', lw=3.1,
                zorder=3, clip_on=False)
        ry, rv = site_reds[k]
        ax.plot(ry, rv, color=RED, lw=4.6, zorder=4, clip_on=False,
                solid_joinstyle='round', solid_capstyle='round')
    else:
        for s, vals in site_blacks:
            ax.plot(years_for(s, vals), vals, color='#8a8a8a', lw=2.0,
                    zorder=1, clip_on=False)
        ax.plot(mean_years, mean_black, color='black', lw=3.1, zorder=3,
                clip_on=False)
        ax.plot(mean_red_years, mean_red, color=RED, lw=4.6, zorder=4,
                clip_on=False, solid_joinstyle='round',
                solid_capstyle='round')

    fig.text(fx(156), fy(title_px), panel_names[k], ha='left',
             va='baseline', fontsize=34, fontweight='bold', color=INK)

# ---- frame with the year axes and the event lines (drawn on top) ----
frame = fig.add_axes([fx(X_LEFT), fy(BOTTOM_AXIS_PX), fx(X_RIGHT) - fx(X_LEFT),
                      fy(TOP_AXIS_PX) - fy(BOTTOM_AXIS_PX)])
frame.set_zorder(10)
frame.patch.set_alpha(0)
frame.set_xlim(XMIN, XMAX)
frame.set_ylim(0, 1)
for s in ['top', 'left', 'right']:
    frame.spines[s].set_visible(False)
frame.spines['bottom'].set_linewidth(1.4)
frame.spines['bottom'].set_color(INK)
frame.set_yticks([])
frame.set_xticks(x_ticks)
frame.set_xticklabels(x_tick_labels)
frame.tick_params(axis='x', direction='out', length=9.5, width=1.4,
                  labelsize=26, colors=INK, pad=10)

top = frame.twiny()
top.set_xlim(XMIN, XMAX)
for s in ['bottom', 'left', 'right']:
    top.spines[s].set_visible(False)
top.spines['top'].set_linewidth(1.4)
top.spines['top'].set_color(INK)
top.set_xticks(x_ticks)
top.set_xticklabels(x_tick_labels)
top.tick_params(axis='x', direction='out', length=11, width=1.4,
                labelsize=26, colors=INK, pad=2)

for yr, lbl in zip(event_years, event_labels):
    frame.axvline(yr, color=RED, lw=4.8, dashes=(4.6, 1.7), zorder=5)
    frame.annotate(lbl, xy=(yr, fy(99.5)), xycoords=('data', 'figure fraction'),
                   xytext=(8.5, 0), textcoords='offset points', ha='left',
                   va='baseline', color=RED, fontsize=26)

fig.text(fx(23), fy(898), y_label, rotation=90, ha='center', va='center',
         fontsize=34, color=INK)
fig.text(fx(2222), fy(895), y_label, rotation=90, ha='center', va='center',
         fontsize=34, color=INK)

fig.savefig('out.png', dpi=100)
